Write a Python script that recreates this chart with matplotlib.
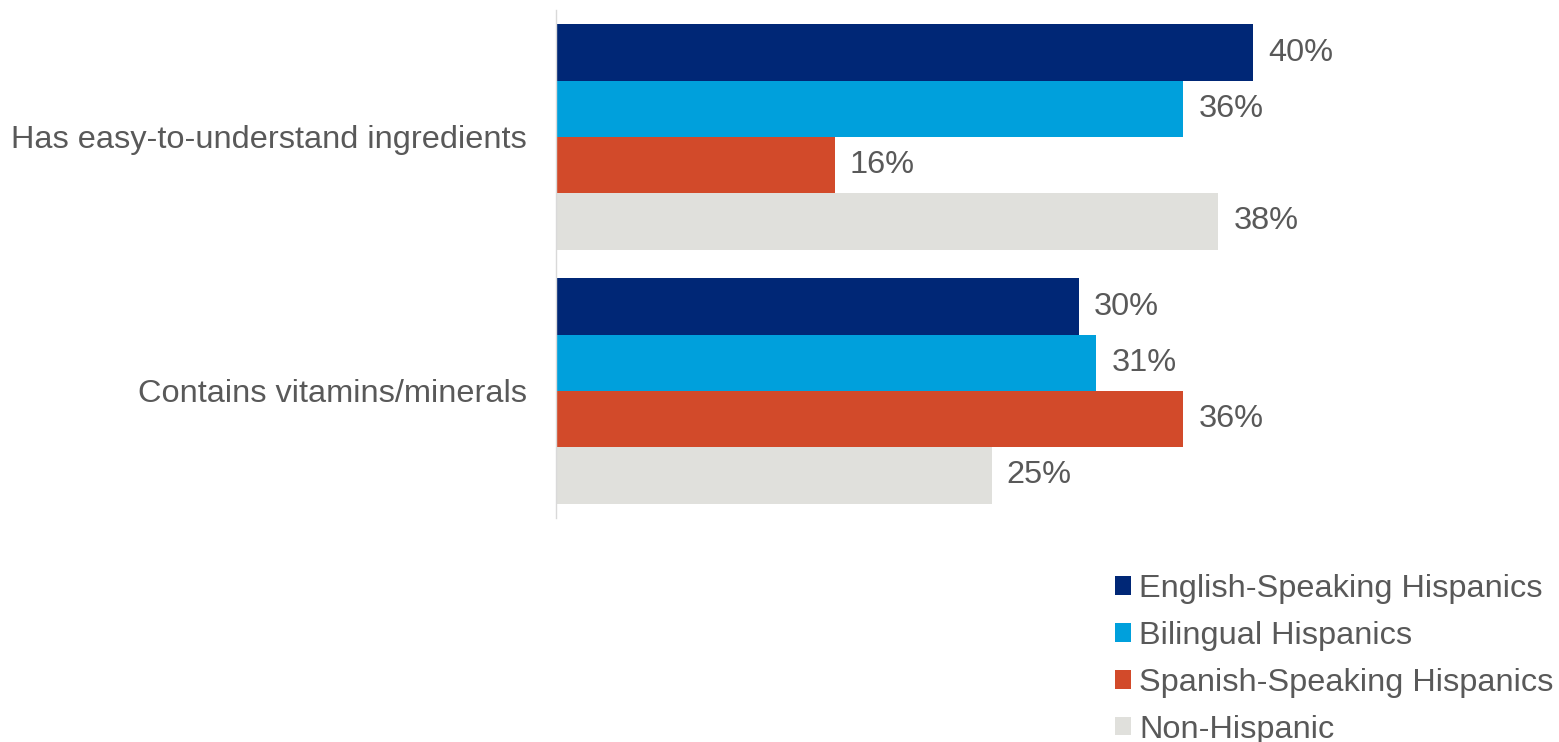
import numpy as np
import matplotlib.pyplot as plt
from matplotlib.patches import Patch

plt.rcParams['font.family'] = ['Liberation Sans', 'DejaVu Sans']

# Survey attributes and the share of each shopper segment citing them
categories = ['Has easy-to-understand ingredients', 'Contains vitamins/minerals']
segments = ['English-Speaking Hispanics', 'Bilingual Hispanics',
            'Spanish-Speaking Hispanics', 'Non-Hispanic']
english = [40, 30]
bilingual = [36, 31]
spanish = [16, 36]
non_hispanic = [38, 25]
colors = ['#002776', '#00A0DC', '#D24A2A', '#E0E0DC']

series = [english, bilingual, spanish, non_hispanic]
text_color = '#595959'
fs = 23.4

fig = plt.figure(figsize=(15.59, 7.42), dpi=100)
ax = fig.add_axes([556 / 1559, 1 - 518 / 742, (1427 - 556) / 1559, 508 / 742])

y = np.arange(len(categories))
h = 0.2216
for i, (vals, col) in enumerate(zip(series, colors)):
    pos = y - 1.5 * h + i * h
    bars = ax.barh(pos, vals, height=h, color=col)
    for b, v in zip(bars, vals):
        ax.annotate(f'{v}%', (b.get_width(), b.get_y() + b.get_height() / 2),
                    xytext=(11, 0), textcoords='offset points',
                    ha='left', va='center', fontsize=fs, color=text_color)

ax.set_xlim(0, 50)
ax.set_ylim(1.5, -0.5)
ax.set_yticks(y)
ax.set_yticklabels(categories, fontsize=fs, color=text_color)
ax.tick_params(axis='y', length=0, pad=21)
ax.set_xticks([])
for s in ['top', 'right', 'bottom']:
    ax.spines[s].set_visible(False)
ax.spines['left'].set_color('#D9D9D9')
ax.spines['left'].set_linewidth(1)

handles = [Patch(facecolor=c, edgecolor='none') for c in colors]
leg = fig.legend(handles, segments, loc='upper left',
                 bbox_to_anchor=(1115 / 1559, 1 - 574 / 742),
                 frameon=False, fontsize=fs, handlelength=0.5, handleheight=0.5,
                 handletextpad=0.24, labelspacing=0.52, borderpad=0, borderaxespad=0)
for t in leg.get_texts():
    t.set_color(text_color)

fig.savefig('out.png', dpi=100)
